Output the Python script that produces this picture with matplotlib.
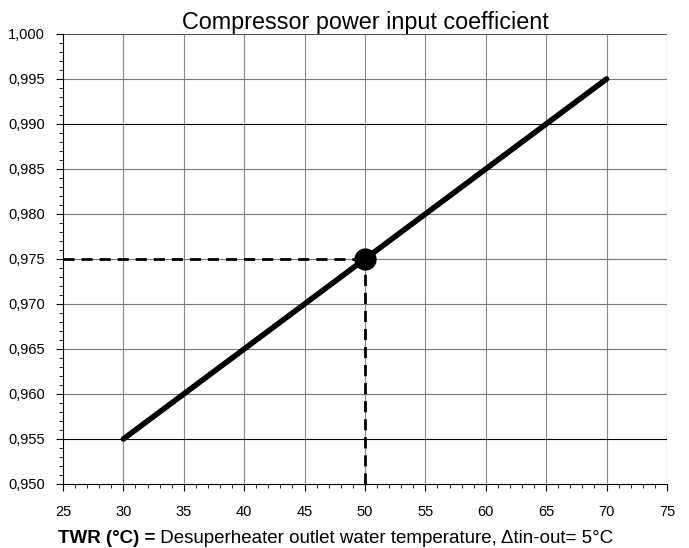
import matplotlib.pyplot as plt
from matplotlib.ticker import MultipleLocator, FuncFormatter

plt.rcParams['font.family'] = ['Liberation Sans', 'DejaVu Sans']

# line data
twr = [30, 70]
coeff = [0.955, 0.995]

# example reading
ex_x = 50
ex_y = 0.975

fig = plt.figure(figsize=(6.89, 5.48), dpi=100)
ax = fig.add_axes([0.0914, 0.1168, 0.8766, 0.8212])

ax.set_xlim(25, 75)
ax.set_ylim(0.950, 1.000)

# grid
for xv in range(30, 75, 5):
    ax.axvline(xv, color='#888888', lw=0.8, zorder=1)
dark = [0.990, 0.955]
for i in range(1, 10):
    yv = 0.950 + i * 0.005
    c = 'black' if any(abs(yv - d) < 1e-6 for d in dark) else '#777777'
    ax.axhline(yv, color=c, lw=0.8, zorder=1)

ax.plot(twr, coeff, color='black', lw=4, solid_capstyle='round', zorder=3)
ax.plot([25, ex_x], [ex_y, ex_y], color='black', lw=2, ls=(0, (4, 2.5)), zorder=2)
ax.plot([ex_x, ex_x], [0.950, ex_y], color='black', lw=2, ls=(0, (4, 2.5)), zorder=2)
ax.plot([ex_x], [ex_y], 'o', color='black', ms=15, zorder=4)

ax.xaxis.set_major_locator(MultipleLocator(5))
ax.xaxis.set_minor_locator(MultipleLocator(1))
ax.yaxis.set_major_locator(MultipleLocator(0.005))
ax.yaxis.set_minor_locator(MultipleLocator(0.001))
ax.yaxis.set_major_formatter(FuncFormatter(lambda v, p: f"{v:.3f}".replace('.', ',')))
ax.tick_params(axis='both', which='major', length=5, width=0.8)
ax.tick_params(axis='both', which='minor', length=3, width=0.6)
ax.tick_params(axis='y', labelsize=10.5, pad=8)
ax.tick_params(axis='x', labelsize=10.5, pad=10)

for s in ['top', 'right']:
    ax.spines[s].set_visible(False)
for s in ['left', 'bottom']:
    ax.spines[s].set_linewidth(0.8)
ax.axhline(1.0, color='#555555', lw=0.8)
ax.axvline(75, color='#555555', lw=0.8)

ax.set_title('Compressor power input coefficient', fontsize=16.8, pad=3)

t = fig.text(0.084, 0.01, 'TWR (°C) =', fontsize=13.5, fontweight='bold', va='baseline')
ax.annotate(' Desuperheater outlet water temperature, \u0394tin-out= 5°C',
            xy=(1, 0), xycoords=t, va='bottom', ha='left', fontsize=13.5)

fig.savefig('out.png', dpi=100)
